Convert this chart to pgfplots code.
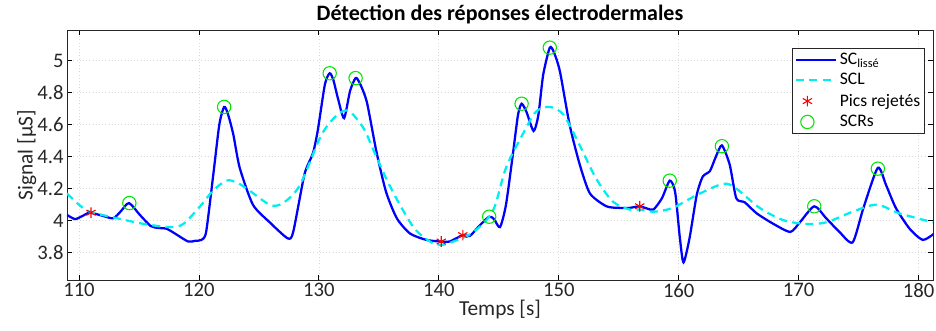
\documentclass[border=0pt]{standalone}
\usepackage{fontspec}
\setmainfont{Carlito}
\usepackage{pgfplots}
\pgfplotsset{compat=1.18}
\definecolor{scblue}{RGB}{0,0,255}
\definecolor{sclcyan}{RGB}{0,238,238}
\definecolor{scrgreen}{RGB}{0,230,0}
\definecolor{axgray}{RGB}{38,38,38}
\pgfplotsset{longline/.style={legend image code/.code={\draw[##1] (0pt,0pt) -- (30pt,0pt);}}}
\begin{document}
\begin{tikzpicture}[x=1pt,y=1pt]
\path[use as bounding box] (-50.25pt,-37.5pt) rectangle (651.75pt,210pt);
\begin{axis}[
  at={(0pt,0pt)}, anchor=south west,
  scale only axis, width=649.5pt, height=187.5pt,
  xmin=109, xmax=181.2, ymin=3.63, ymax=5.19,
  xtick={110,120,130,140,150,160,170,180},
  ytick={3.8,4,4.2,4.4,4.6,4.8,5},
  yticklabels={3.8,4,4.2,4.4,4.6,4.8,5},
  tick align=inside, major tick length=3.5pt,
  axis line style={axgray, line width=0.6pt},
  tick style={black, line width=0.6pt},
  grid=major,
  grid style={dotted, gray!30, line width=0.5pt},
  /pgf/number format/assume math mode=true,
  tick label style={font=\fontsize{15.5}{17}\selectfont, text=axgray},
  xticklabel style={yshift=1pt},
  yticklabel style={xshift=1pt},
  xlabel={Temps [s]}, ylabel={Signal [µS]},
  label style={font=\fontsize{16}{18}\selectfont, text=axgray},
  xlabel style={yshift=5pt},
  ylabel style={yshift=-6pt},
  title={\bfseries Détection des réponses électrodermales},
  title style={font=\fontsize{16.5}{18}\selectfont, yshift=-5pt},
  legend style={at={(0.991,0.928)}, anchor=north east, draw=axgray, line width=0.6pt,
    font=\fontsize{13.2}{14}\selectfont, inner sep=1.5pt, row sep=1.3pt},
  legend cell align=left,
]
\addplot[scblue, line width=1.7pt, smooth, tension=0.4, longline] table {
109.0 4.036
109.67 4.01
110.3 4.03
110.9 4.05
112.0 4.03
112.86 4.015
113.5 4.06
114.17 4.11
115.08 4.036
115.97 3.967
116.6 3.955
117.3 3.95
118.0 3.92
119.1 3.87
119.7 3.875
120.2 3.88
120.6 3.93
121.2 4.29
121.7 4.6
122.1 4.71
122.4 4.67
122.86 4.54
123.4 4.33
124.5 4.10
125.9 3.99
127.4 3.89
127.86 3.93
128.8 4.29
129.5 4.42
129.9 4.56
130.5 4.85
130.9 4.92
131.2 4.88
131.6 4.76
132.1 4.64
132.6 4.81
133.06 4.89
133.4 4.86
134.0 4.74
134.8 4.43
135.6 4.18
136.5 4.015
137.6 3.92
138.97 3.88
140.2 3.87
140.9 3.87
142.0 3.91
142.6 3.906
143.4 3.97
144.2 4.025
144.6 4.01
145.1 3.96
145.6 4.10
146.2 4.43
146.6 4.66
146.9 4.73
147.3 4.68
147.9 4.56
148.3 4.66
148.7 4.91
149.25 5.08
149.6 5.05
150.1 4.93
150.9 4.60
151.75 4.35
152.6 4.17
153.97 4.09
155.1 4.08
155.9 4.08
156.75 4.09
157.4 4.075
157.9 4.07
158.6 4.14
159.25 4.25
159.7 4.18
160.1 3.89
160.4 3.74
160.9 3.89
161.5 4.16
162.0 4.275
162.6 4.31
163.1 4.40
163.6 4.47
164.25 4.35
164.8 4.14
165.5 4.115
166.5 4.046
167.9 3.98
169.3 3.93
170.1 3.99
171.3 4.09
172.3 4.015
173.4 3.93
174.5 3.865
175.4 4.08
176.6 4.33
177.3 4.22
178.1 4.08
179.25 3.95
180.35 3.88
181.3 3.92
};
\addlegendentry{SC\textsubscript{lissé}}
\addplot[sclcyan, line width=1.7pt, smooth, dash pattern=on 6pt off 4pt, longline] table {
109.0 4.17
110.0 4.10
110.9 4.056
112.9 4.02
115.4 3.98
117.6 3.96
118.7 3.98
120.1 4.09
121.2 4.19
122.3 4.25
123.1 4.24
124.0 4.20
125.9 4.10
127.0 4.11
128.4 4.22
130.08 4.515
131.0 4.62
131.9 4.68
132.6 4.68
133.7 4.58
134.5 4.45
135.6 4.265
136.75 4.10
138.1 3.94
139.8 3.85
141.2 3.87
142.9 3.93
144.5 4.06
145.6 4.33
147.0 4.54
148.1 4.68
149.25 4.71
150.4 4.66
151.75 4.47
153.1 4.265
154.5 4.12
155.9 4.07
156.75 4.07
157.9 4.056
159.5 4.08
161.5 4.16
163.7 4.23
164.8 4.20
166.75 4.08
168.7 4.004
170.6 3.98
172.3 3.99
174.5 4.056
176.5 4.10
178.4 4.046
181.2 3.99
};
\addlegendentry{SCL}
\addplot[only marks, mark=asterisk, mark size=4pt, red, line width=0.8pt] table {
111.0 4.05
140.2 3.87
142.0 3.91
156.75 4.09
};
\addlegendentry{Pics rejetés}
\addplot[only marks, mark=o, mark size=5pt, scrgreen, line width=0.8pt] table {
114.2 4.11
122.1 4.71
130.9 4.92
133.06 4.89
144.2 4.025
146.9 4.73
149.25 5.08
159.25 4.25
163.6 4.465
171.3 4.09
176.6 4.325
};
\addlegendentry{SCRs}
\end{axis}
\end{tikzpicture}
\end{document}
